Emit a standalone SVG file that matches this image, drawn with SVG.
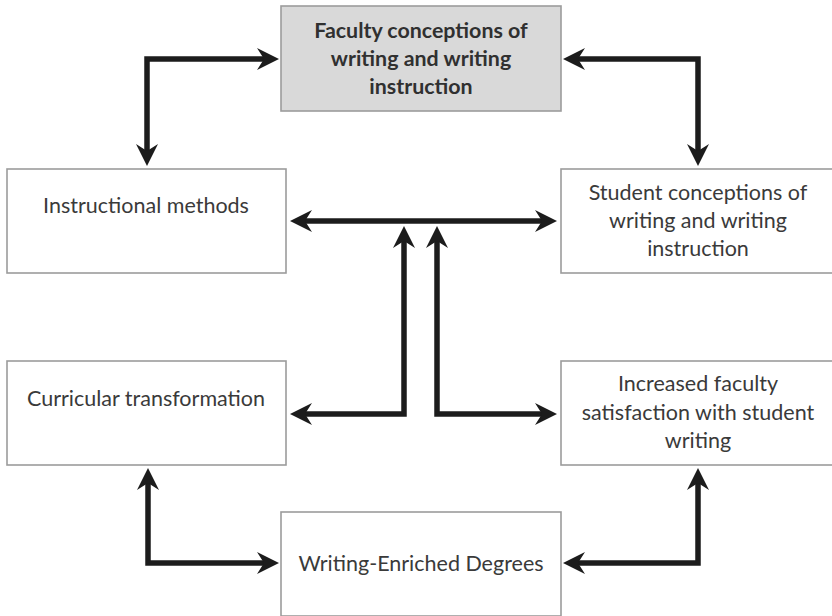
<svg xmlns="http://www.w3.org/2000/svg" width="832" height="616" viewBox="0 0 832 616">
  <style>
    .box { fill: #ffffff; stroke: #9c9c9c; stroke-width: 1.6; }
    .box.key { fill: #d9d9d9; }
    .label { font-family: Lato, "Open Sans", "DejaVu Sans", sans-serif; font-size: 21.5px; fill: #3a3a3a; text-anchor: middle; }
    .label.bold { font-weight: bold; font-size: 21.4px; fill: #303030; }
    .link { fill: none; stroke: #1c1c1c; stroke-width: 5.5; stroke-linejoin: miter; marker-end: url(#head); }
    .link.both { marker-start: url(#head); }
  </style>
  <defs>
    <!-- barbed arrowhead; tip sits 12px beyond the path end -->
    <marker id="head" viewBox="0 0 22 22" refX="10" refY="11" markerWidth="22" markerHeight="22" markerUnits="userSpaceOnUse" orient="auto-start-reverse">
      <path d="M22,11 L0,0 L7,11 L0,22 Z" fill="#1c1c1c"/>
    </marker>
  </defs>

  <rect width="832" height="616" fill="#ffffff"/>

  <g id="faculty-conceptions">
    <rect class="box key" x="281" y="6" width="280" height="105"/>
    <text class="label bold" x="421" y="38">Faculty conceptions of</text>
    <text class="label bold" x="421" y="66">writing and writing</text>
    <text class="label bold" x="421" y="94">instruction</text>
  </g>

  <g id="instructional-methods">
    <rect class="box" x="7" y="169" width="279" height="104"/>
    <text class="label" x="146" y="213">Instructional methods</text>
  </g>

  <g id="student-conceptions">
    <rect class="box" x="561" y="169" width="279" height="104"/>
    <text class="label" x="698" y="200">Student conceptions of</text>
    <text class="label" x="698" y="228">writing and writing</text>
    <text class="label" x="698" y="256">instruction</text>
  </g>

  <g id="curricular-transformation">
    <rect class="box" x="7" y="361" width="279" height="104"/>
    <text class="label" x="146" y="406">Curricular transformation</text>
  </g>

  <g id="faculty-satisfaction">
    <rect class="box" x="561" y="361" width="279" height="104"/>
    <text class="label" x="698" y="391">Increased faculty</text>
    <text class="label" x="698" y="420">satisfaction with student</text>
    <text class="label" x="698" y="448">writing</text>
  </g>

  <g id="writing-enriched-degrees">
    <rect class="box" x="281" y="512" width="280" height="104"/>
    <text class="label" x="421" y="571">Writing-Enriched Degrees</text>
  </g>

  <g id="connectors">
    <!-- faculty conceptions <-> instructional methods -->
    <path class="link both" d="M267,59 H147 V154"/>
    <!-- faculty conceptions <-> student conceptions -->
    <path class="link both" d="M575,59 H698 V154"/>
    <!-- instructional methods <-> student conceptions -->
    <path class="link both" d="M302,221 H545"/>
    <!-- central feeds from curricular transformation and satisfaction -->
    <path class="link both" d="M302,414 H404 V238"/>
    <path class="link both" d="M545,414 H437 V238"/>
    <!-- curricular transformation <-> writing-enriched degrees -->
    <path class="link both" d="M148,480 V563 H267"/>
    <!-- faculty satisfaction <-> writing-enriched degrees -->
    <path class="link both" d="M698,480 V563 H575"/>
  </g>
</svg>
